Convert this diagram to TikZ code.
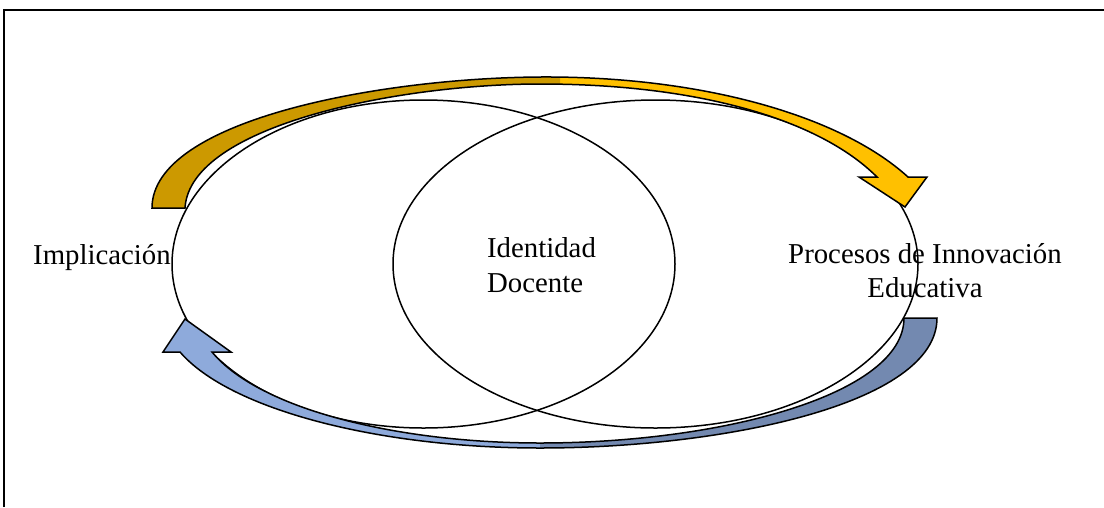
\documentclass[tikz,border=0pt]{standalone}
\usepackage{fontspec}
\setmainfont{Liberation Serif}
\definecolor{golddark}{HTML}{CC9900}
\definecolor{goldlight}{HTML}{FFC000}
\definecolor{bluedark}{HTML}{7389B0}
\definecolor{bluelight}{HTML}{8EAADB}
\tikzset{
  venn/.style={draw=black, line width=1.5pt},
  outline/.style={draw=black, line width=1.5pt, line join=miter},
  lbl/.style={inner sep=0pt, font=\fontsize{28.8}{34.5}\selectfont},
  frameline/.style={draw=black, line width=1.8pt}
}
\begin{document}
\begin{tikzpicture}[x=1pt,y=-1pt]
\useasboundingbox (0,0) rectangle (1104,507);
% frame
\coordinate (fbl) at (4,507);
\coordinate (ftl) at (4,10);
\coordinate (ftr) at (1104,10);
\draw[frameline] (fbl) -- (ftl) -- (ftr);
% ellipses
\draw[venn] (423.5,264) ellipse [x radius=251.5pt, y radius=164pt];
\draw[venn] (655.5,264) ellipse [x radius=262.5pt, y radius=164pt];
% gold arrow
\def\goldpath{(152,208) .. controls (152,120) and (380,78) .. (540,77)
  .. controls (700,76) and (840,115) .. (908,177)
  -- (927,177) -- (905,207) -- (859,177) -- (877,177)
  .. controls (820,120) and (700,84) .. (540,84)
  .. controls (400,84) and (190,125) .. (185,208) -- cycle}
\fill[goldlight] \goldpath;
\begin{scope}
\clip (0,0) rectangle (560,507);
\fill[golddark] \goldpath;
\end{scope}
\draw[outline] \goldpath;
% blue arrow
\def\bluepath{(937,318) .. controls (937,405) and (720,448) .. (540,448)
  .. controls (380,448) and (230,410) .. (180,352)
  -- (163,352) -- (185,319) -- (231,352) -- (212,352)
  .. controls (260,410) and (400,443) .. (540,443)
  .. controls (720,443) and (904,395) .. (904,318) -- cycle}
\fill[bluelight] \bluepath;
\begin{scope}
\clip (540,0) rectangle (1104,507);
\fill[bluedark] \bluepath;
\end{scope}
\draw[outline] \bluepath;
% labels
\node[lbl, anchor=base west] (impl) at (33,264) {Implicación};
\node[lbl, align=left] (iden) at (541.5,265) {Identidad\\Docente};
\node[lbl, align=center] (proc) at (925,270.5) {Procesos de Innovación\\Educativa};
\end{tikzpicture}
\end{document}
